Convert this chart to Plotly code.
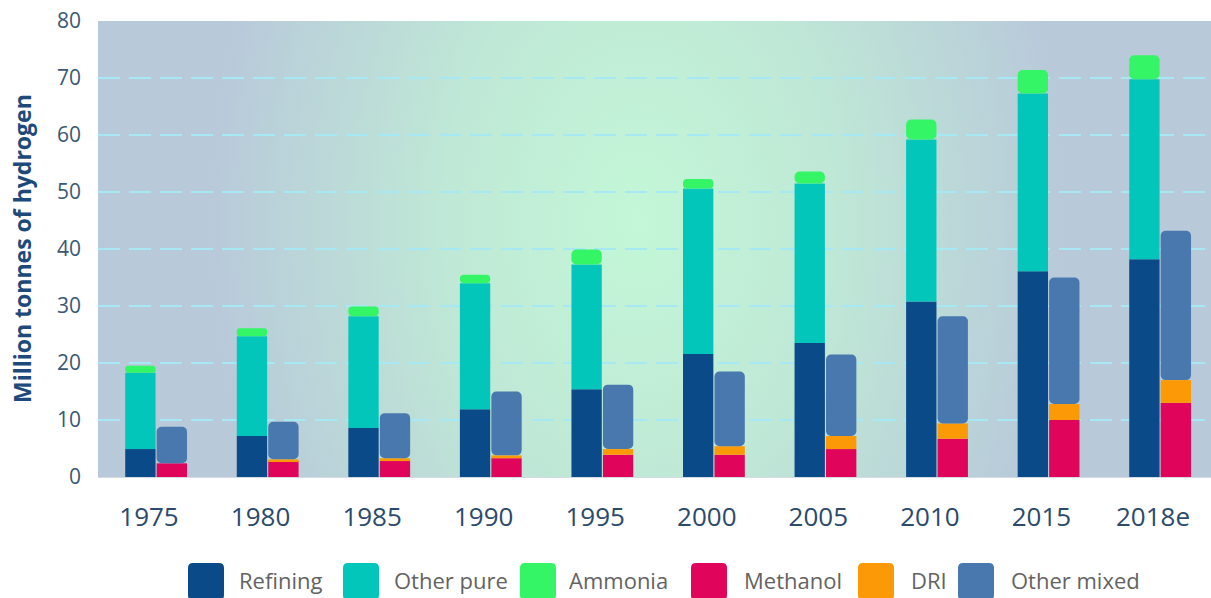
import base64
import numpy as np
import plotly.graph_objects as go

years = ["1975", "1980", "1985", "1990", "1995", "2000", "2005", "2010", "2015", "2018e"]

# Pure hydrogen demand (left stack)
refining = [4.9, 7.2, 8.6, 11.9, 15.4, 21.6, 23.5, 30.8, 36.1, 38.2]
other_pure = [13.4, 17.5, 19.6, 22.1, 21.9, 29.0, 28.0, 28.4, 31.2, 31.6]
ammonia = [1.2, 1.4, 1.7, 1.5, 2.6, 1.7, 2.1, 3.5, 4.1, 4.2]

# Mixed hydrogen demand (right stack)
methanol = [2.4, 2.8, 2.8, 3.3, 3.9, 3.9, 4.9, 6.7, 10.0, 13.0]
dri = [0.0, 0.3, 0.5, 0.5, 1.0, 1.5, 2.3, 2.7, 2.8, 4.0]
other_mixed = [6.4, 6.6, 7.9, 11.2, 11.3, 13.1, 14.3, 18.8, 22.2, 26.2]

y_ticks = [0, 10, 20, 30, 40, 50, 60, 70, 80]
y_title = "Million tonnes of hydrogen"

legend_names = ["Refining", "Other pure", "Ammonia", "Methanol", "DRI", "Other mixed"]
colors = {
    "Refining": "#0a4a88",
    "Other pure": "#03c6bb",
    "Ammonia": "#33f566",
    "Methanol": "#e0045a",
    "DRI": "#fb9a06",
    "Other mixed": "#4878ad",
}

# ---- layout geometry (pixels) ----
W, H = 1211, 598
ML, MR, MT, MB = 98, 0, 21, 121
PW, PH = W - ML - MR, H - MT - MB
BW = 0.272

def px2paper_x(px):
    return (px - ML) / PW

def px2paper_y(py):
    return (H - MB - py) / PH

fig = go.Figure()

def add_stack(series, names, offset, top_round):
    base = np.zeros(len(years))
    for i, (vals, name) in enumerate(zip(series, names)):
        vals = np.array(vals, dtype=float)
        marker = dict(color=colors[name], line=dict(width=0))
        if i == len(series) - 1:
            marker["cornerradius"] = top_round
        fig.add_trace(go.Bar(
            x=years, y=vals, base=base.copy(), name=name,
            width=BW, offset=offset, marker=marker, showlegend=False,
        ))
        base = base + vals

add_stack([refining, other_pure, ammonia], ["Refining", "Other pure", "Ammonia"], -BW - 0.004, 5)
add_stack([methanol, dri, other_mixed], ["Methanol", "DRI", "Other mixed"], 0.006, 5)

# background radial gradient for plot area
cx, cy = 540, 200
svg = (
    f'<svg xmlns="http://www.w3.org/2000/svg" width="{PW}" height="{PH}" viewBox="0 0 {PW} {PH}" preserveAspectRatio="none">'
    f'<defs><radialGradient id="g" gradientUnits="userSpaceOnUse" cx="{cx}" cy="{cy}" r="430" '
    f'gradientTransform="translate({cx},{cy}) scale(1,1.4) translate({-cx},{-cy})">'
    '<stop offset="0" stop-color="#c3f7d7"/>'
    '<stop offset="0.45" stop-color="#bfe8d6"/>'
    '<stop offset="1" stop-color="#b8c9da"/>'
    '</radialGradient></defs>'
    f'<rect x="0" y="0" width="{PW}" height="{PH}" fill="url(#g)"/></svg>'
)
src = "data:image/svg+xml;base64," + base64.b64encode(svg.encode()).decode()

shapes = []
annotations = []

# custom legend (large rounded squares)
sq_left = [188, 343, 520, 691, 858, 958]
txt_left = [237, 392, 567, 742, 909, 1009]
sq_w, sq_top, sq_bot, rr = 36, 563, 600, 5
for name, sx, tx in zip(legend_names, sq_left, txt_left):
    x0, x1 = px2paper_x(sx), px2paper_x(sx + sq_w)
    y0, y1 = px2paper_y(sq_bot), px2paper_y(sq_top)
    rx, ry = rr / PW, rr / PH
    path = (
        f"M {x0+rx},{y1} L {x1-rx},{y1} Q {x1},{y1} {x1},{y1-ry} "
        f"L {x1},{y0+ry} Q {x1},{y0} {x1-rx},{y0} L {x0+rx},{y0} "
        f"Q {x0},{y0} {x0},{y0+ry} L {x0},{y1-ry} Q {x0},{y1} {x0+rx},{y1} Z"
    )
    shapes.append(dict(type="path", xref="paper", yref="paper", path=path,
                       fillcolor=colors[name], line=dict(width=0), layer="above"))
    annotations.append(dict(x=px2paper_x(tx), y=px2paper_y(580), xref="paper", yref="paper",
                            text=name, showarrow=False, xanchor="left", yanchor="middle",
                            font=dict(family="Open Sans", size=22, color="#636363")))

annotations.append(dict(x=px2paper_x(22), y=0.5, xref="paper", yref="paper",
                        text=f"<b>{y_title}</b>", textangle=-90, showarrow=False,
                        xanchor="center", yanchor="middle",
                        font=dict(family="Open Sans", size=23, color="#1d4a7a")))

fig.update_layout(
    width=W, height=H,
    margin=dict(l=ML, r=MR, t=MT, b=MB, pad=0),
    paper_bgcolor="white",
    plot_bgcolor="rgba(0,0,0,0)",
    barmode="overlay",
    font=dict(family="Open Sans"),
    images=[dict(source=src, xref="paper", yref="paper", x=0, y=1, sizex=1, sizey=1,
                 xanchor="left", yanchor="top", sizing="stretch", layer="below")],
    shapes=shapes,
    annotations=annotations,
    showlegend=False,
    xaxis=dict(
        type="category", range=[-0.52, 9.457],
        showgrid=False, showline=True, linecolor="#d5dbe2", linewidth=1,
        ticks="", tickfont=dict(family="Open Sans", size=26, color="#2b4a6c"),
        ticklabelstandoff=17, ticklabelshift=-7,
    ),
    yaxis=dict(
        range=[0, 80], tickvals=y_ticks, showgrid=True,
        gridcolor="#a6e8f4", gridwidth=1.5, griddash="22px,9px",
        zeroline=False, showline=False, ticks="",
        tickfont=dict(family="Open Sans", size=21, color="#3a5875"),
        ticklabelstandoff=16,
    ),
)

fig.write_html("out.html")
